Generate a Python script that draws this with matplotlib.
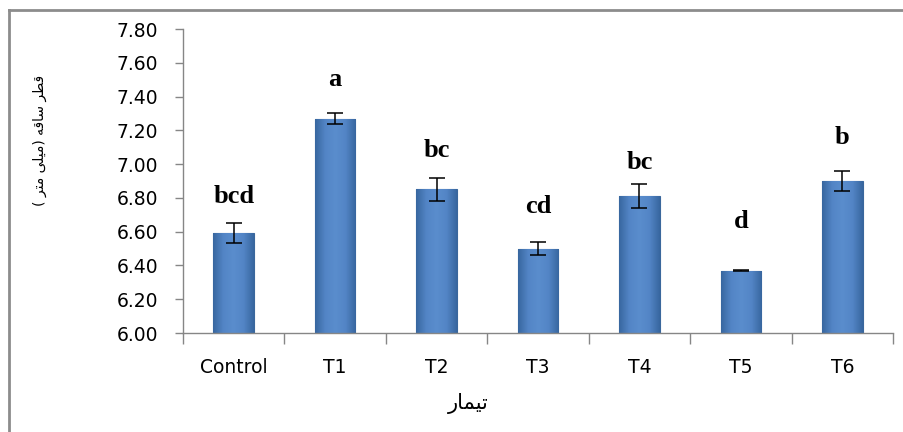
import numpy as np
import matplotlib
matplotlib.use('Agg')
import matplotlib.pyplot as plt
from matplotlib.lines import Line2D
from matplotlib.colors import LinearSegmentedColormap

treatments = ['Control', 'T1', 'T2', 'T3', 'T4', 'T5', 'T6']
means = [6.59, 7.27, 6.85, 6.50, 6.81, 6.37, 6.90]
errors = [0.06, 0.035, 0.07, 0.04, 0.07, 0.005, 0.06]
letters = ['bcd', 'a', 'bc', 'cd', 'bc', 'd', 'b']
letter_y = [6.77, 7.46, 7.04, 6.71, 6.97, 6.62, 7.12]
yticks = [6.00, 6.20, 6.40, 6.60, 6.80, 7.00, 7.20, 7.40, 7.60, 7.80]

# Persian labels, pre-shaped (presentation forms, visual order)
xlabel_fa = '\uFEAD\uFE8E\uFEE4\uFEF4\uFE97'  # تیمار
ylabel_fa = ('( ' + '\uFEAE\uFE98\uFEE3' + ' ' + '\uFEF0\uFEE0\uFEF4\uFEE3' + ') '
             + '\uFEEA\uFED7\uFE8E\uFEB3' + ' ' + '\uFEAE\uFEC4\uFED7')  # قطر ساقه (میلی متر )

gray = '#868686'

fig = plt.figure(figsize=(9.04, 4.32), dpi=100)
ax = fig.add_axes([183 / 904, 1 - 333 / 432, 710 / 904, 304 / 432])

x = np.arange(len(treatments))
bars = ax.bar(x, [m - 6.0 for m in means], bottom=6.0, width=0.40,
              color='#4F81BD', edgecolor='#3A679C', linewidth=0.8, zorder=2)

# horizontal shading to mimic the bevelled Excel bars
cmap = LinearSegmentedColormap.from_list('bev', ['#3867A0', '#5385C6', '#5A8DCD', '#5385C6', '#3867A0'])
grad = np.linspace(0, 1, 64).reshape(1, -1)
for b in bars:
    x0, y0 = b.get_x(), b.get_y()
    im = ax.imshow(grad, cmap=cmap, aspect='auto', zorder=2.1,
                   extent=[x0, x0 + b.get_width(), y0, y0 + b.get_height()])
    im.set_clip_path(b)

ax.errorbar(x, means, yerr=errors, fmt='none', ecolor='black',
            elinewidth=1.1, capsize=6, capthick=1.1, zorder=3)

for xi, lab, ly in zip(x, letters, letter_y):
    ax.text(xi, ly, lab, ha='center', va='baseline', fontsize=19,
            fontweight='bold', family='Liberation Serif', zorder=4)

ax.set_xlim(-0.5, len(treatments) - 0.5)
ax.set_ylim(6.0, 7.8)
ax.set_yticks(yticks)
ax.set_yticklabels([f'{v:.2f}' for v in yticks], fontsize=13.5)
ax.set_xticks(x)
ax.set_xticklabels(treatments, fontsize=13.5)
ax.set_xticks(np.arange(len(treatments) + 1) - 0.5, minor=True)
ax.tick_params(axis='x', which='major', length=0, pad=18)
ax.tick_params(axis='x', which='minor', length=8, color=gray, width=1)
ax.tick_params(axis='y', length=6, color=gray, width=1, pad=12)

for s in ['top', 'right']:
    ax.spines[s].set_visible(False)
for s in ['left', 'bottom']:
    ax.spines[s].set_color(gray)
    ax.spines[s].set_linewidth(1)

fig.text(468 / 904, 1 - 404 / 432, xlabel_fa, ha='center', va='center',
         fontsize=15, family=['DejaVu Sans'])
fig.text(40 / 904, 1 - 140 / 432, ylabel_fa, ha='center', va='center',
         rotation=90, fontsize=10, family=['DejaVu Sans'])

# outer chart border (only top and left are inside the crop)
fig.add_artist(Line2D([9 / 904, 1], [1 - 10 / 432, 1 - 10 / 432],
                      transform=fig.transFigure, color='#8C8C8C', linewidth=2))
fig.add_artist(Line2D([9 / 904, 9 / 904], [0, 1 - 10 / 432],
                      transform=fig.transFigure, color='#8C8C8C', linewidth=2))

fig.savefig('out.png', dpi=100)
